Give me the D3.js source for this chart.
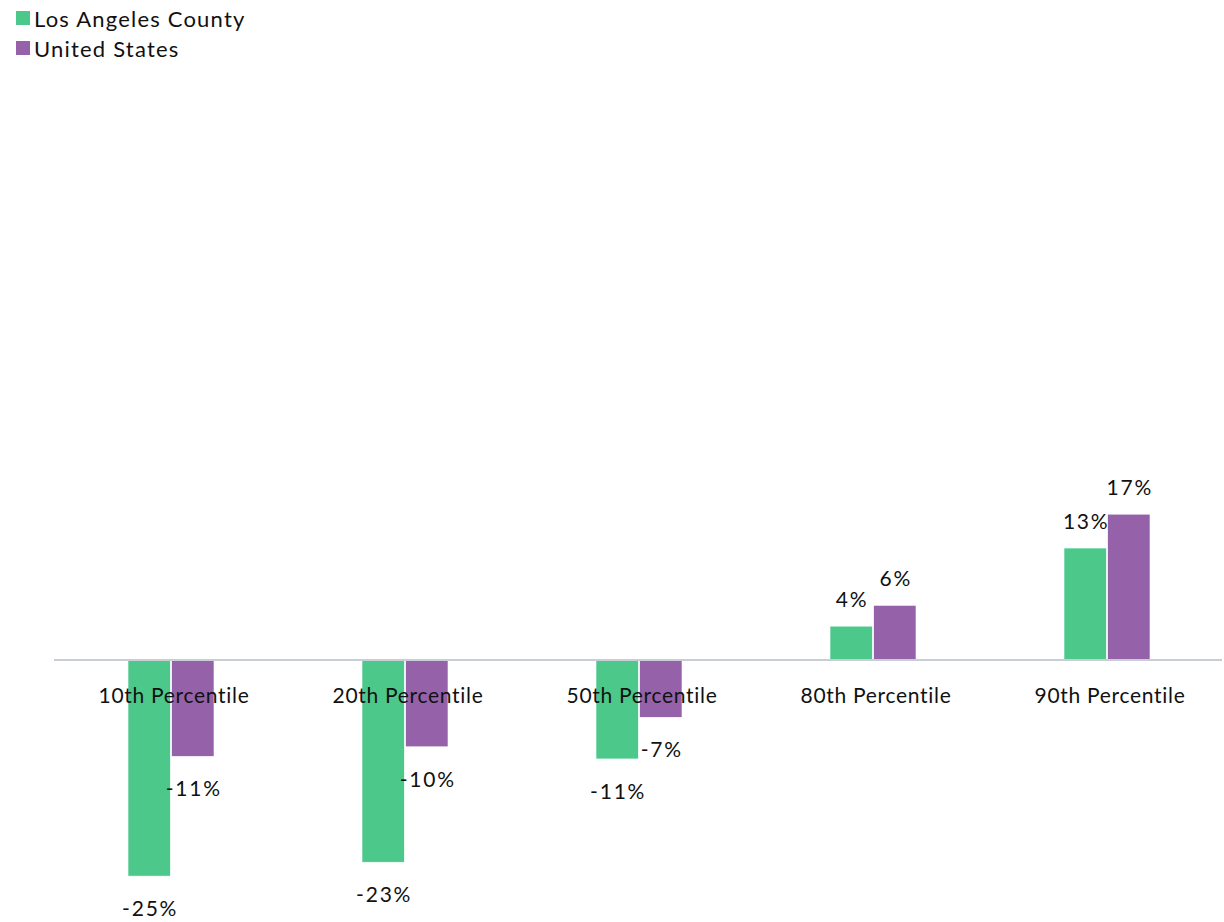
<!DOCTYPE html>
<html><head><meta charset="utf-8">
<script src="https://cdn.jsdelivr.net/npm/d3@7"></script>
<style>body{margin:0;background:#fff}svg{display:block}text{font-family:Lato,"Open Sans",sans-serif;fill:#111}</style>
</head><body>
<svg id="c" width="1224" height="922"></svg>
<script>
const categories = ["10th Percentile","20th Percentile","50th Percentile","80th Percentile","90th Percentile"];
const seriesNames = ["Los Angeles County","United States"];
const laValues = [-24.9,-23.3,-11.4,3.9,12.9];
const usValues = [-11.1,-10.0,-6.6,6.3,16.8];
const colors = ["#4cc98a","#9562a9"];

const svg = d3.select("#c");
const x = d3.scaleBand().domain(categories).range([54,1224]).paddingInner(0).paddingOuter(0);
const xs = d3.scaleBand().domain(seriesNames).range([x.bandwidth()/2-43, x.bandwidth()/2+43]).paddingInner(0.03);
const y = d3.scaleLinear().domain([-25,0]).range([877,660]);

const data = [];
categories.forEach((c,i)=>{
  data.push({c, s:seriesNames[0], v:laValues[i], col:colors[0]});
  data.push({c, s:seriesNames[1], v:usValues[i], col:colors[1]});
});

const g = svg.append("g");
g.selectAll("rect").data(data).join("rect")
  .attr("x", d=>x(d.c)+xs(d.s))
  .attr("width", xs.bandwidth())
  .attr("y", d=>y(Math.max(0,d.v)))
  .attr("height", d=>Math.abs(y(d.v)-y(0)))
  .attr("fill", d=>d.col)
  .attr("stroke","#fff").attr("stroke-width",0.6);

// baseline axis
const axis = d3.axisBottom(x).tickSize(0).tickPadding(0);
const ag = svg.append("g").attr("transform",`translate(0,${y(0)})`).call(axis);
ag.select(".domain").attr("stroke","#c9cdd6").attr("stroke-width",2).attr("d","M54,0H1222");
ag.selectAll(".tick text").attr("dy",null).attr("y",43).attr("dx",3)
  .style("font-size","21px").style("letter-spacing","0.7px").style("fill","#111").attr("font-family","Lato");

// value labels
g.selectAll("text.val").data(data).join("text").attr("class","val")
  .attr("x", d=>x(d.c)+xs(d.s)+xs.bandwidth()/2 + 1)
  .attr("y", d=> d.v>=0 ? y(d.v)-19 : y(d.v)+40)
  .attr("text-anchor","middle")
  .style("font-size","21px").style("letter-spacing","1.8px")
  .text(d=>Math.round(d.v)+"%");

// legend
const lg = svg.append("g");
seriesNames.forEach((n,i)=>{
  lg.append("rect").attr("x",16).attr("y",11+i*30).attr("width",14).attr("height",14).attr("fill",colors[i]);
  lg.append("text").attr("x",34).attr("y",27+i*30).style("font-size","22px").style("letter-spacing","1.2px").text(n);
});
</script>
</body></html>
